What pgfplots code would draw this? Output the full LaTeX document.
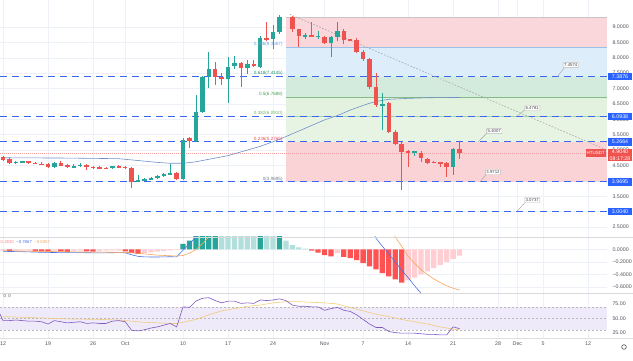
\documentclass[border=0pt]{standalone}
\usepackage{pgfplots}
\pgfplotsset{compat=1.18}
\usepackage{pgfplotstable}
\usepackage{fontspec}
\setmainfont{Liberation Sans}

\definecolor{up}{HTML}{26A69A}
\definecolor{dn}{HTML}{EF5350}
\definecolor{tvblue}{HTML}{2962FF}
\definecolor{dashblue}{HTML}{3D66EE}
\definecolor{gridc}{HTML}{EEF1F7}
\definecolor{axtext}{HTML}{50535E}
\definecolor{maline}{HTML}{6F8FC8}
\definecolor{hdteal}{HTML}{26A69A}
\definecolor{hlteal}{HTML}{B2DFDB}
\definecolor{hdred}{HTML}{FF5252}
\definecolor{hlred}{HTML}{FFCDD2}
\definecolor{macdc}{HTML}{4A72E8}
\definecolor{sigc}{HTML}{F5A65B}
\definecolor{rsic}{HTML}{7E57C2}
\definecolor{rsima}{HTML}{F5CB7A}
\definecolor{rsiband}{HTML}{EEEAF9}
\definecolor{zpinktop}{HTML}{FAD7DA}
\definecolor{zblue}{HTML}{DDEDFA}
\definecolor{zgreen1}{HTML}{D3EBDD}
\definecolor{zgreen2}{HTML}{E3F2DF}
\definecolor{zgreen3}{HTML}{E8F4E3}
\definecolor{zpink}{HTML}{FAD3D6}
\definecolor{l786}{HTML}{6FA6DA}
\definecolor{l618}{HTML}{1E9470}
\definecolor{l500}{HTML}{4F9F55}
\definecolor{l382}{HTML}{6DB368}
\definecolor{l236}{HTML}{E0505A}
\definecolor{l000}{HTML}{787B86}

\pgfplotstableread{
d o h l c
2 4.58 4.64 4.55 4.62
3 4.61 4.66 4.57 4.63
8 4.45 4.62 4.43 4.59
11 4.45 4.56 4.42 4.48
12 4.47 4.57 4.44 4.53
17 4.41 4.49 4.39 4.47
21 3.99 4.20 3.95 4.02
22 4.02 4.08 3.99 4.06
23 4.06 4.11 4.03 4.08
24 4.08 4.19 4.06 4.17
25 4.16 4.24 4.13 4.22
26 4.20 4.55 4.18 4.26
28 4.05 5.40 4.02 5.33
30 5.28 6.79 5.25 6.23
31 6.23 7.40 6.20 7.37
32 7.37 8.18 7.01 7.63
35 7.30 8.04 6.52 7.71
36 7.73 8.06 7.65 7.82
38 7.66 7.93 7.47 7.80
40 7.71 8.72 7.68 8.65
42 8.60 9.07 8.29 8.85
43 8.85 9.40 8.78 9.34
47 8.71 8.80 8.62 8.73
49 8.69 8.88 8.62 8.72
51 8.47 8.70 8.03 8.66
52 8.66 9.17 8.55 8.88
59 6.45 6.84 5.65 6.50
64 4.94 4.98 4.80 4.95
70 4.44 5.08 4.20 5.03
}\upc

\pgfplotstableread{
d o h l c
0 4.76 4.80 4.66 4.69
1 4.70 4.74 4.56 4.58
4 4.63 4.66 4.56 4.58
5 4.58 4.62 4.54 4.56
6 4.56 4.60 4.50 4.53
7 4.54 4.57 4.42 4.44
9 4.59 4.63 4.47 4.49
10 4.50 4.54 4.42 4.44
13 4.53 4.56 4.36 4.44
14 4.44 4.48 4.40 4.43
15 4.44 4.47 4.38 4.41
16 4.42 4.45 4.38 4.41
18 4.47 4.50 4.43 4.46
19 4.46 4.48 4.40 4.43
20 4.43 4.45 3.78 3.97
27 4.26 4.30 4.03 4.05
29 5.38 5.42 5.07 5.28
33 7.63 7.87 7.12 7.38
34 7.39 7.51 7.12 7.30
37 7.82 7.86 7.06 7.66
39 7.80 7.92 7.70 7.72
41 8.65 9.17 8.55 8.60
45 9.33 9.36 8.85 8.93
46 8.92 8.95 8.36 8.72
48 8.73 9.17 8.66 8.69
50 8.69 8.72 8.45 8.47
53 8.88 8.92 8.45 8.59
54 8.60 8.62 8.55 8.58
55 8.58 8.65 8.15 8.20
56 8.20 8.25 7.90 7.96
57 7.96 7.98 7.00 7.04
58 7.04 7.50 6.40 6.46
60 6.52 6.56 5.55 5.60
61 5.60 5.65 5.18 5.20
62 5.20 5.25 3.70 4.95
63 4.96 5.00 4.46 4.94
65 4.91 4.96 4.62 4.73
66 4.71 4.74 4.55 4.59
67 4.62 4.64 4.58 4.60
68 4.60 4.62 4.45 4.58
69 4.59 4.62 4.13 4.44
71 5.03 5.25 4.70 4.90
}\dnc

\pgfplotstableread{
d v
28 0.09
29 0.14
30 0.30
31 0.30
32 0.30
33 0.30
40 0.30
43 0.30
}\hdt

\pgfplotstableread{
d v
34 0.30
35 0.30
36 0.30
37 0.30
38 0.30
39 0.30
41 0.30
42 0.30
44 0.14
45 0.07
46 0.035
47 0.012
}\hlt

\pgfplotstableread{
d v
1 -0.03
5 -0.03
6 -0.03
7 -0.04
9 -0.03
10 -0.04
13 -0.03
14 -0.035
19 -0.03
20 -0.06
21 -0.07
48 -0.02
49 -0.05
50 -0.09
51 -0.11
53 -0.12
54 -0.14
55 -0.17
56 -0.22
57 -0.27
58 -0.32
59 -0.38
60 -0.43
61 -0.48
62 -0.53
}\hdr

\pgfplotstableread{
d v
0 -0.02
2 -0.02
3 -0.015
4 -0.02
8 -0.02
11 -0.025
12 -0.02
15 -0.03
16 -0.02
17 -0.015
18 -0.02
22 -0.055
23 -0.045
24 -0.035
25 -0.025
26 -0.015
27 -0.008
52 -0.06
63 -0.49
64 -0.45
65 -0.40
66 -0.35
67 -0.30
68 -0.25
69 -0.20
70 -0.15
71 -0.10
}\hlr

\pgfplotstableread{
d v
0 -0.030
3 -0.035
6 -0.045
9 -0.050
12 -0.050
15 -0.055
18 -0.050
19 -0.052
20 -0.085
21 -0.110
22 -0.118
23 -0.120
24 -0.120
25 -0.118
26 -0.116
27 -0.118
28 -0.010
29 0.090
30 0.200
31 0.400
32 0.650
35 0.900
40 1.000
45 0.950
50 0.850
54 0.750
56 0.600
57 0.400
58 0.180
59 0.050
60 -0.070
61 -0.200
62 -0.330
63 -0.450
64 -0.580
65 -0.700
66 -0.820
71 -1.100
}\macd

\pgfplotstableread{
d v
0 -0.020
6 -0.030
12 -0.040
18 -0.045
20 -0.050
22 -0.070
24 -0.090
26 -0.100
27 -0.105
28 -0.095
29 -0.060
30 0.000
31 0.090
32 0.200
34 0.400
38 0.700
45 0.900
52 0.800
56 0.650
58 0.500
60 0.330
61 0.200
62 0.050
63 -0.110
64 -0.220
65 -0.320
66 -0.400
67 -0.470
68 -0.530
69 -0.580
70 -0.620
71 -0.650
}\signal

\pgfplotstableread{
d v
-0.5 58
0 46
1 46
2 47
3 46
4 45
5 45
6 44
7 40
8 46
9 44
10 42
11 43
12 44
13 41
14 42
15 41
16 41
17 45
18 46
19 44
20 29
21 28
22 30
23 33
24 35
25 38
26 41
27 35
28 70
29 69
30 80
31 85
32 86
33 81
34 77
35 80
36 80
37 76
38 77
39 76
40 82
41 81
42 82
43 84
44 81
45 73
46 71
47 71
48 70
49 70
50 64
51 67
52 69
53 64
54 62
55 56
56 48
57 40
58 34
59 34
60 27
61 25
62 24
63 24
64 24
65 23
66 22
67 22
68 21
69 21
70 35
71 32
}\rsi

\pgfplotstableread{
d v
0 53
5 51
10 49
15 48
18 47
20 45
22 43
24 42
26 41
27 41
28 43
30 48
32 56
34 63
36 67
38 71
40 73
42 77
44 79
46 79
48 78
50 77
52 75
54 69
56 63
58 57
60 53
62 48
64 44
66 40
68 35
70 31
71 30
}\rsima

\pgfplotstableread{
d v
0 4.75
10 4.74
18 4.72
20 4.68
24 4.60
26 4.57
28 4.57
30 4.62
35 4.82
40 5.12
43 5.35
46 5.62
48 5.80
50 5.98
52 6.12
54 6.30
56 6.45
57 6.52
58 6.58
60 6.65
63 6.68
66 6.70
71 6.71
}\ma

\pgfplotsset{
  tv/.style={
    scale only axis, width=607pt, xmin=-0.47, xmax=93.93,
    anchor=south west, clip mode=individual,
    axis line style={draw=none}, major tick length=0pt, tick style={draw=none},
    xtick={0,7,14,19,28,35,42,50,56,63,70,77,80,84,91},
    xmajorgrids, ymajorgrids, grid style={gridc, line width=0.5pt},
    yticklabel pos=right,
    ticklabel style={font=\fontsize{5.3}{6}\selectfont, text=axtext},
    yticklabel style={anchor=west, xshift=2pt},
  },
  wick/.style={draw=none, mark=none, forget plot, error bars/.cd, y dir=both, y explicit, error mark=none, error bar style={line width=0.8pt, draw=#1}},
  body/.style={draw=none, mark=none, forget plot, error bars/.cd, y dir=both, y explicit, error mark=none, error bar style={line width=4.5pt, draw=#1}},
}
\tikzset{
  pricebox/.style={fill=tvblue, text=white, anchor=west, inner sep=0.6pt, minimum width=24.5pt, minimum height=7.6pt, xshift=0.6pt, font=\fontsize{5.3}{6}\selectfont},
  callout/.style={draw=gray!55, fill=white, line width=0.4pt, rounded corners=0.8pt, inner sep=1.1pt, font=\fontsize{4.3}{5}\selectfont, text=black!75},
  fiblab/.style={anchor=south east, inner sep=0.6pt, font=\fontsize{4.6}{5}\selectfont},
}

\begin{document}
\begin{tikzpicture}[font=\fontsize{5.3}{6}\selectfont]
\useasboundingbox (0,0) rectangle (633pt,361pt);

% ---------------- price pane ----------------
\begin{axis}[tv, at={(0pt,124pt)}, height=237pt, ymin=2.175, ymax=9.877,
  ytick={2.5,3,3.5,4,4.5,5,5.5,6,6.5,7,7.5,8,8.5,9},
  yticklabels={2.5000,3.0000,3.5000,4.0000,4.5000,5.0000,5.5000,6.0000,6.5000,7.0000,7.5000,8.0000,8.5000,9.0000},
  xticklabels={}]
% fib zones
\addplot[fill=zpinktop, draw=none] coordinates {(44,9.33)(93.93,9.33)(93.93,8.35)(44,8.35)};
\addplot[fill=zblue, draw=none] coordinates {(44,8.35)(93.93,8.35)(93.93,7.3876)(44,7.3876)};
\addplot[fill=zgreen1, draw=none] coordinates {(44,7.3876)(93.93,7.3876)(93.93,6.725)(44,6.725)};
\addplot[fill=zgreen2, draw=none] coordinates {(44,6.725)(93.93,6.725)(93.93,6.10)(44,6.10)};
\addplot[fill=zgreen3, draw=none] coordinates {(44,6.10)(93.93,6.10)(93.93,5.2664)(44,5.2664)};
\addplot[fill=zpink, draw=none] coordinates {(44,5.2664)(93.93,5.2664)(93.93,3.9695)(44,3.9695)};
% fib lines
\addplot[draw=gray!45, line width=0.6pt] coordinates {(44,9.33)(93.93,9.33)};
\addplot[draw=l786!70, line width=0.7pt] coordinates {(44,8.35)(93.93,8.35)};
\addplot[draw=l500!70, line width=0.7pt] coordinates {(44,6.725)(93.93,6.725)};
\addplot[draw=l382!60, line width=0.7pt] coordinates {(44,6.10)(93.93,6.10)};
% horizontal dashed levels
\addplot[draw=dashblue, line width=1.2pt, dash pattern=on 7pt off 5pt] coordinates {(-0.47,7.3876)(93.93,7.3876)};
\addplot[draw=dashblue, line width=1.2pt, dash pattern=on 7pt off 5pt] coordinates {(-0.47,6.0938)(93.93,6.0938)};
\addplot[draw=dashblue, line width=1.2pt, dash pattern=on 7pt off 5pt] coordinates {(-0.47,5.2664)(93.93,5.2664)};
\addplot[draw=dashblue, line width=1.2pt, dash pattern=on 7pt off 5pt] coordinates {(-0.47,3.9695)(93.93,3.9695)};
\addplot[draw=dashblue, line width=1.2pt, dash pattern=on 7pt off 5pt] coordinates {(-0.47,3.0040)(93.93,3.0040)};
% trend line and last price line
\addplot[draw=gray!70, line width=0.6pt, dash pattern=on 1.6pt off 1.6pt] coordinates {(44.6,9.41)(93.93,5.00)};
\addplot[draw=dn!55, line width=0.5pt, dash pattern=on 1pt off 1pt] coordinates {(-0.47,4.904)(93.93,4.904)};
% moving average
\addplot[draw=maline, line width=0.6pt] table[x=d, y=v] {\ma};
% candles
\addplot[wick=up] table[x=d, y expr={(\thisrow{h}+\thisrow{l})/2}, y error expr={(\thisrow{h}-\thisrow{l})/2}] {\upc};
\addplot[wick=dn] table[x=d, y expr={(\thisrow{h}+\thisrow{l})/2}, y error expr={(\thisrow{h}-\thisrow{l})/2}] {\dnc};
\addplot[body=up] table[x=d, y expr={(\thisrow{o}+\thisrow{c})/2}, y error expr={max(abs(\thisrow{o}-\thisrow{c})/2,0.013)}] {\upc};
\addplot[body=dn] table[x=d, y expr={(\thisrow{o}+\thisrow{c})/2}, y error expr={max(abs(\thisrow{o}-\thisrow{c})/2,0.013)}] {\dnc};
% fib labels
\node[fiblab, text=l786] at (axis cs:43.6,8.35) {0.786(8.3567)};
\node[fiblab, text=l618] at (axis cs:43.6,7.3876) {0.618(7.4145)};
\node[fiblab, text=l500] at (axis cs:43.6,6.725) {0.5(6.7688)};
\node[fiblab, text=l382] at (axis cs:43.6,6.10) {0.382(6.0910)};
\node[fiblab, text=l236] at (axis cs:43.6,5.2664) {0.236(5.2765)};
\node[fiblab, text=l000] at (axis cs:43.6,3.9695) {0(3.9695)};
% callouts
\draw[gray!70, line width=0.45pt] (axis cs:86.2,7.3876) -- (axis cs:87.4,7.70);
\node[callout] at (axis cs:88.3,7.765) {7.4574};
\draw[gray!70, line width=0.45pt] (axis cs:79.9,6.0938) -- (axis cs:81.3,6.33);
\node[callout] at (axis cs:82.3,6.37) {6.4781};
\draw[gray!70, line width=0.45pt] (axis cs:73.9,5.2664) -- (axis cs:75.3,5.56);
\node[callout] at (axis cs:76.4,5.62) {5.4007};
\draw[gray!70, line width=0.45pt] (axis cs:74.2,3.9695) -- (axis cs:75.2,4.23);
\node[callout] at (axis cs:76.2,4.29) {3.9712};
\draw[gray!70, line width=0.45pt] (axis cs:79.9,3.0040) -- (axis cs:81.3,3.32);
\node[callout] at (axis cs:82.3,3.38) {3.0737};
% right scale boxes
\node[pricebox] at (axis cs:93.93,7.3876) {7.3876};
\node[pricebox] at (axis cs:93.93,6.0938) {6.0938};
\node[pricebox] at (axis cs:93.93,5.2664) {5.2664};
\node[pricebox] at (axis cs:93.93,3.9695) {3.9695};
\node[pricebox] at (axis cs:93.93,3.0040) {3.0040};
\node[fill=dn, text=white, anchor=north west, inner sep=0.8pt, minimum width=24.5pt, align=center, xshift=0.6pt, yshift=4pt, font=\fontsize{5.3}{6.6}\selectfont] at (axis cs:93.93,4.904) {4.9040\\08:17:28};
\node[fill=dn, text=white, anchor=east, inner sep=0.9pt, minimum height=7.4pt, font=\fontsize{4.5}{5}\selectfont, xshift=-1pt] at (axis cs:93.93,4.904) {HTUSDT};
\end{axis}

% ---------------- MACD pane ----------------
\begin{axis}[tv, at={(0pt,68pt)}, height=56pt, ymin=-0.696, ymax=0.2,
  ytick={-0.6,-0.4,-0.2,0}, yticklabels={−0.6000,−0.4000,−0.2000,0.0000},
  xticklabels={}]
\addplot[ybar, bar width=5.3pt, bar shift=0pt, fill=hdteal, draw=none] table[x=d, y=v] {\hdt};
\addplot[ybar, bar width=5.3pt, bar shift=0pt, fill=hlteal, draw=none] table[x=d, y=v] {\hlt};
\addplot[ybar, bar width=5.3pt, bar shift=0pt, fill=hdred, draw=none] table[x=d, y=v] {\hdr};
\addplot[ybar, bar width=5.3pt, bar shift=0pt, fill=hlred, draw=none] table[x=d, y=v] {\hlr};
\addplot[draw=macdc, line width=0.6pt] table[x=d, y=v] {\macd};
\addplot[draw=sigc, line width=0.6pt] table[x=d, y=v] {\signal};
\draw[gray!30, line width=0.7pt] (rel axis cs:0,1) -- (rel axis cs:1.043,1);
\node[anchor=north west, inner sep=0.5pt, font=\fontsize{4.3}{5}\selectfont] at (axis cs:-0.47,0.15) {\textcolor{dn!70}{0.2810}\ \ \textcolor{macdc}{−0.7867}\ \ \textcolor{sigc}{−0.5057}};
\end{axis}

% ---------------- RSI pane ----------------
\begin{axis}[tv, at={(0pt,23pt)}, height=45pt, ymin=15.6, ymax=94.2,
  ytick={25,50,75}, yticklabels={25.00,50.00,75.00}, ymajorgrids=false,
  xticklabels={12,19,26,Oct,10,17,24,Nov,7,14,21,28,Dec,5,12}]
\addplot[fill=rsiband, draw=none] coordinates {(-0.47,30)(93.93,30)(93.93,70)(-0.47,70)};
\addplot[draw=gray!55, line width=0.5pt, dash pattern=on 2pt off 2pt] coordinates {(-0.47,70)(93.93,70)};
\addplot[draw=gray!55, line width=0.5pt, dash pattern=on 2pt off 2pt] coordinates {(-0.47,50)(93.93,50)};
\addplot[draw=gray!55, line width=0.5pt, dash pattern=on 2pt off 2pt] coordinates {(-0.47,30)(93.93,30)};
\addplot[draw=rsima, line width=0.6pt] table[x=d, y=v] {\rsima};
\addplot[draw=rsic, line width=0.6pt] table[x=d, y=v] {\rsi};
\draw[gray!30, line width=0.7pt] (rel axis cs:0,1) -- (rel axis cs:1.043,1);
\draw[gray!25, line width=0.5pt] (rel axis cs:0,0) -- (rel axis cs:1.043,0);
\node[anchor=north west, inner sep=0.5pt, text=axtext, font=\fontsize{4.3}{5}\selectfont] at (axis cs:0,92) {0\ \ 0};
\end{axis}

\draw[axtext, line width=0.6pt] (624pt,14pt) circle (2.3pt);
\end{tikzpicture}
\end{document}
